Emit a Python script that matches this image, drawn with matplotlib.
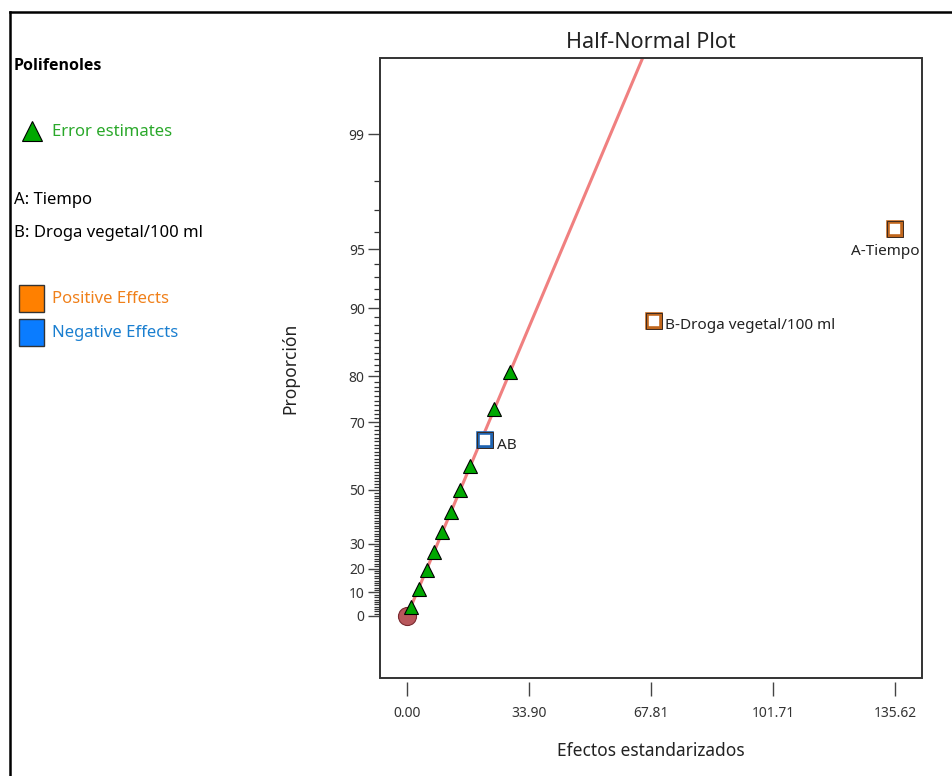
import math
from statistics import NormalDist
import numpy as np
import matplotlib
matplotlib.use("Agg")
import matplotlib.pyplot as plt
from matplotlib.patches import Rectangle

plt.rcParams["font.family"] = ["Noto Sans", "DejaVu Sans"]

# data (x = standardized effect, p = half-normal % probability)
err_x = [1.03, 3.25, 5.47, 7.59, 9.81, 12.14, 14.73, 17.50, 24.17, 28.62]
err_p = [3.8, 11.5, 19.2, 26.9, 34.6, 42.3, 50.0, 57.7, 73.1, 80.8]
eff_names = ["A-Tiempo", "B-Droga vegetal/100 ml", "AB"]
eff_x = [135.62, 68.6, 21.8]
eff_p = [96.15, 88.5, 65.4]
eff_sign = ["pos", "pos", "neg"]
line_x = [0.0, 65.6]
line_p = [0.0, 99.72]
x_ticks = [0.00, 33.90, 67.81, 101.71, 135.62]
x_ticklabels = ["0.00", "33.90", "67.81", "101.71", "135.62"]
y_ticks = [0, 10, 20, 30, 50, 70, 80, 90, 95, 99]

_nd = NormalDist()
def _fwd(p):
    p = np.clip(np.asarray(p, dtype=float), -99.9999, 99.9999)
    return np.vectorize(lambda v: _nd.inv_cdf(0.5 + v / 200.0))(p)
def _inv(z):
    z = np.asarray(z, dtype=float)
    return np.vectorize(lambda v: 100.0 * math.erf(v / math.sqrt(2)))(z)

W, H = 953, 776
fig = plt.figure(figsize=(W / 100, H / 100), dpi=100)

# background/pixel axes for frame + legend panel
bg = fig.add_axes([0, 0, 1, 1])
bg.set_xlim(0, W)
bg.set_ylim(H, 0)
bg.axis("off")
bg.plot([10, 10], [12, H + 5], color="black", lw=1.8, clip_on=False)
bg.plot([10, W + 5], [12, 12], color="black", lw=1.8, clip_on=False)

bg.text(14, 66, "Polifenoles", fontsize=11.5, fontweight="bold", family=["Open Sans", "DejaVu Sans"],
        va="center", ha="left")
bg.plot([32], [131], marker="^", ms=14, mfc="#00a800", mec="black", mew=0.8, ls="none")
bg.text(52, 132, "Error estimates", fontsize=12, color="#2aa82a", va="center", ha="left")
bg.text(14, 200, "A: Tiempo", fontsize=12, va="center", ha="left")
bg.text(14, 233, "B: Droga vegetal/100 ml", fontsize=12, va="center", ha="left")
bg.add_patch(Rectangle((19, 285), 25, 27, facecolor="#ff8000", edgecolor="#333333", lw=1))
bg.text(52, 299, "Positive Effects", fontsize=12, color="#f0801a", va="center", ha="left")
bg.add_patch(Rectangle((19, 319), 25, 27, facecolor="#0a7cff", edgecolor="#333333", lw=1))
bg.text(52, 333, "Negative Effects", fontsize=12, color="#1a7fd0", va="center", ha="left")

# main axes
ax = fig.add_axes([380 / W, 1 - 678 / H, 542 / W, 620 / H])
ax.set_yscale("function", functions=(_fwd, _inv))
ax.set_xlim(-7.5, 143.1)
ax.set_ylim(-26.0, 99.715)

ax.plot(line_x, line_p, color="#f08080", lw=2.2, zorder=2)
ax.plot([0], [0], marker="o", ms=13, mfc="#b8575c", mec="#7a2a30", mew=0.8, ls="none", zorder=3)
ax.plot(err_x, err_p, marker="^", ms=10, mfc="#00a800", mec="black", mew=0.8, ls="none", zorder=4)

for name, x, p, s in zip(eff_names, eff_x, eff_p, eff_sign):
    c = "#c0661c" if s == "pos" else "#1f63b0"
    ax.plot([x], [p], marker="s", ms=10, mfc="white", mec=c, mew=2.6, ls="none", zorder=5)
    ax.plot([x], [p], marker="s", ms=11.5, mfc="none", mec="#3a2a20", mew=0.7, ls="none", zorder=6)

ax.annotate(eff_names[0], (eff_x[0], eff_p[0]), xytext=(-7, -16), textcoords="offset points",
            ha="center", va="center", fontsize=11, color="#222222")
ax.annotate(eff_names[1], (eff_x[1], eff_p[1]), xytext=(8, -3), textcoords="offset points",
            ha="left", va="center", fontsize=11, color="#222222")
ax.annotate(eff_names[2], (eff_x[2], eff_p[2]), xytext=(8, -4), textcoords="offset points",
            ha="left", va="center", fontsize=11, color="#222222")

# frame drawn separately so the x ticks can sit below it
for sp in ax.spines.values():
    sp.set_visible(False)
ax.add_patch(Rectangle((0, 0), 1, 1, transform=ax.transAxes, fill=False,
                       edgecolor="#333333", lw=1.4, clip_on=False, zorder=10))
ax.spines["bottom"].set_position(("outward", 3))

ax.set_xticks(x_ticks)
ax.set_xticklabels(x_ticklabels)
ax.set_yticks(y_ticks)
ax.set_yticklabels([str(v) for v in y_ticks])
ax.set_yticks([v for v in range(1, 99) if v not in y_ticks], minor=True)
ax.xaxis.set_minor_locator(matplotlib.ticker.NullLocator())
ax.tick_params(axis="x", direction="out", length=10, width=1, color="#444444",
               labelsize=10, labelcolor="#333333", pad=7)
ax.tick_params(axis="y", which="major", direction="out", length=9, width=1, color="#444444",
               labelsize=10, labelcolor="#333333", pad=2)
ax.tick_params(axis="y", which="minor", direction="out", length=4.5, width=0.9, color="#333333")

ax.set_title("Half-Normal Plot", fontsize=15.5, pad=7, color="#222222")
ax.set_xlabel("Efectos estandarizados", fontsize=12.5, color="#222222")
ax.set_ylabel("Proporción", fontsize=12.5, color="#222222")
ax.xaxis.set_label_coords(0.5, -0.104)
ax.yaxis.set_label_coords(-0.148, 0.5)

fig.savefig("out.png", dpi=100)
